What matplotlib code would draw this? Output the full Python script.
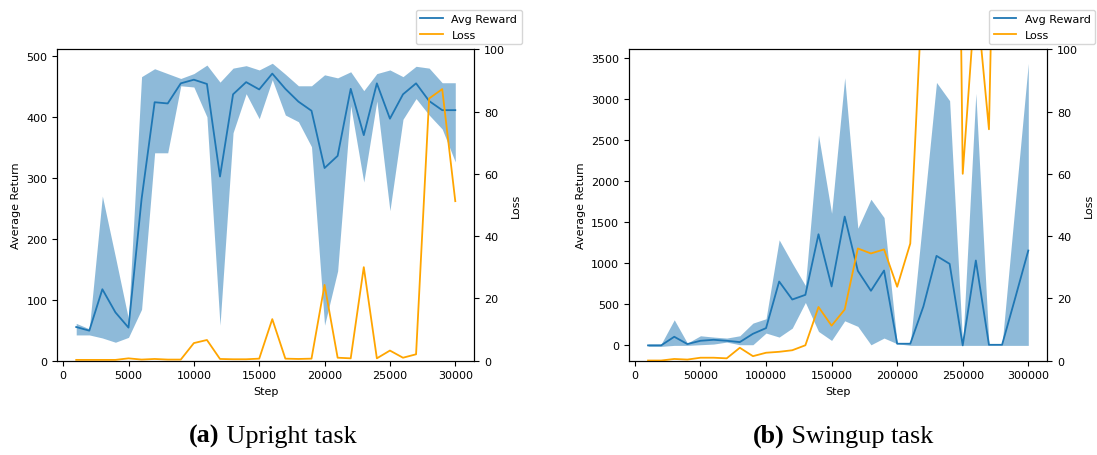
import matplotlib
matplotlib.use("Agg")   # no display, just write the png
import matplotlib.pyplot as plt
from matplotlib.lines import Line2D

# ── Data ──────────────────────────────────────────────────

# Upright task: one point every 1000 steps
UPRIGHT_STEPS = list(range(1000, 30001, 1000))
UPRIGHT_MEAN = [55, 49, 117, 79, 54, 265, 424, 422, 455, 461,
                454, 302, 437, 457, 445, 471, 446, 425, 410, 316,
                336, 446, 370, 455, 397, 437, 455, 426, 411, 411]
UPRIGHT_UPPER = [61, 52, 270, 170, 68, 466, 479, 471, 463, 471,
                 485, 457, 480, 484, 477, 488, 470, 451, 451, 469,
                 464, 474, 443, 471, 477, 466, 483, 480, 456, 456]
UPRIGHT_LOWER = [42, 42, 37, 30, 38, 84, 341, 341, 451, 449,
                 400, 58, 374, 438, 397, 461, 403, 392, 351, 58,
                 147, 418, 293, 426, 246, 396, 430, 403, 380, 326]
UPRIGHT_LOSS = [0.2, 0.2, 0.2, 0.2, 0.7, 0.3, 0.5, 0.3, 0.3, 5.6,
                6.6, 0.5, 0.4, 0.4, 0.6, 13.3, 0.6, 0.5, 0.6, 24.3,
                0.9, 0.7, 30.0, 0.7, 3.2, 0.9, 2.0, 84.2, 87.2, 51.2]

# Swingup task: one point every 10000 steps
SWINGUP_STEPS = list(range(10000, 300001, 10000))
SWINGUP_MEAN = [0, 0, 105, 16, 56, 68, 56, 40, 141, 210,
                777, 558, 615, 1352, 717, 1567, 907, 664, 911, 20,
                20, 474, 1089, 992, 0, 1033, 7, 7, 575, 1154]
SWINGUP_UPPER = [16, 16, 311, 28, 117, 101, 89, 117, 271, 324,
                 1284, 1000, 729, 2559, 1607, 3256, 1425, 1778, 1555, 20,
                 20, 1606, 3199, 2977, 0, 3066, 7, 7, 1721, 3430]
SWINGUP_LOWER = [-12, -12, 0, 0, 8, 16, 40, 8, 8, 150,
                 101, 210, 522, 170, 60, 299, 231, 7, 89, 20,
                 0, 0, 0, 0, 0, 0, 0, 0, 0, 0]
SWINGUP_LOSS = [0, 0, 0.5, 0.3, 0.9, 0.9, 0.7, 4.1, 1.4, 2.5,
                2.8, 3.3, 4.9, 17.2, 11.2, 16.4, 36.0, 34.4, 35.7, 23.7,
                37.6, 126, 250, 410, 60, 119, 74.3, 272, 300, 320]

REWARD_COLOR = "#1f77b4"
LOSS_COLOR   = "orange"

plt.rcParams["font.size"] = 8


# ── One panel: reward band + loss on a twin axis ─────────

def draw_panel(fig, rect, steps, mean, lower, upper, loss, clip_bottom):
    ax = fig.add_axes(rect)
    ax.fill_between(steps, lower, upper, color=REWARD_COLOR, alpha=0.5,
                    linewidth=0)
    ax.plot(steps, mean, color=REWARD_COLOR, linewidth=1.3)
    if clip_bottom:
        ax.set_ylim(bottom=0)
    ax.set_xlabel("Step")
    ax.set_ylabel("Average Return")

    ax2 = ax.twinx()
    ax2.plot(steps, loss, color=LOSS_COLOR, linewidth=1.3)
    ax2.set_ylim(0, 100)
    ax2.set_ylabel("Loss")

    handles = [Line2D([], [], color=REWARD_COLOR, linewidth=1.3),
               Line2D([], [], color=LOSS_COLOR, linewidth=1.3)]
    ax2.legend(handles, ["Avg Reward", "Loss"], loc="lower right",
               bbox_to_anchor=(1.114, 1.017), borderaxespad=0, fontsize=8)
    return ax2


# bold "(a)" followed by the plain title, both in a Times-like serif
def caption(ax, x, tag, title):
    t = ax.figure.text(x, 0.0165, tag, fontsize=18.8, fontweight="bold",
                       family="Liberation Serif", va="bottom", ha="left")
    ax.annotate(" " + title, xy=(1, 0), xycoords=t, fontsize=18.8,
                family="Liberation Serif", va="bottom", ha="left",
                annotation_clip=False)


def main():
    fig = plt.figure(figsize=(10.97, 4.56), dpi=100)

    ax_a = draw_panel(fig, [0.0522, 0.2072, 0.3801, 0.6825],
                      UPRIGHT_STEPS, UPRIGHT_MEAN, UPRIGHT_LOWER,
                      UPRIGHT_UPPER, UPRIGHT_LOSS, clip_bottom=True)
    ax_b = draw_panel(fig, [0.5734, 0.2072, 0.3813, 0.6825],
                      SWINGUP_STEPS, SWINGUP_MEAN, SWINGUP_LOWER,
                      SWINGUP_UPPER, SWINGUP_LOSS, clip_bottom=False)

    caption(ax_a, 189 / 1097, "(a)", "Upright task")
    caption(ax_b, 753 / 1097, "(b)", "Swingup task")

    fig.savefig("out.png", dpi=100)
    plt.close(fig)


if __name__ == "__main__":
    main()
